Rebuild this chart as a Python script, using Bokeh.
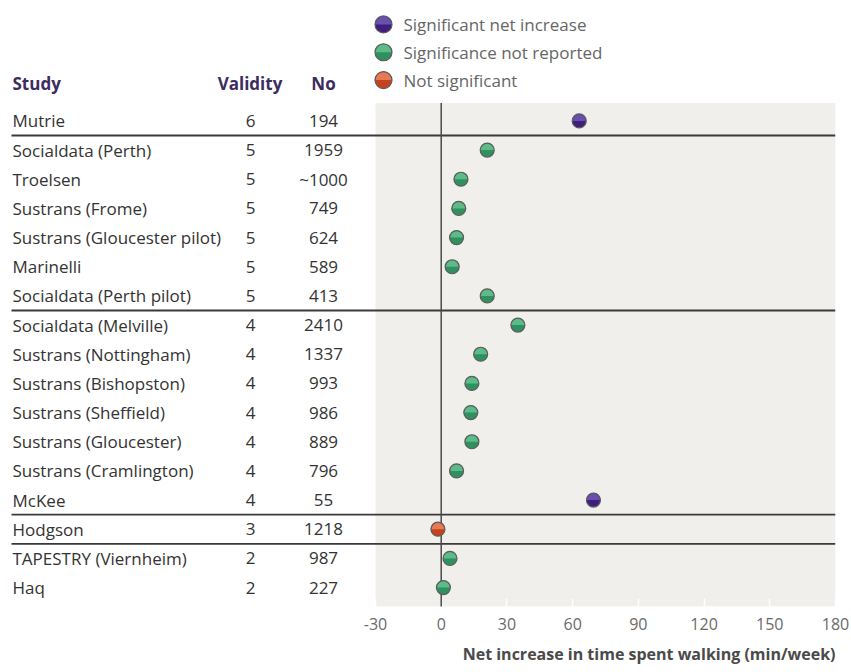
import math
from bokeh.plotting import figure
from bokeh.models import Range1d, FixedTicker, ColumnDataSource, Title
from bokeh.core.properties import value
from bokeh.transform import factor_cmap
from bokeh.embed import file_html
from bokeh.resources import INLINE

# ---------------- data ----------------
studies = ["Mutrie", "Socialdata (Perth)", "Troelsen", "Sustrans (Frome)",
           "Sustrans (Gloucester pilot)", "Marinelli", "Socialdata (Perth pilot)",
           "Socialdata (Melville)", "Sustrans (Nottingham)", "Sustrans (Bishopston)",
           "Sustrans (Sheffield)", "Sustrans (Gloucester)", "Sustrans (Cramlington)",
           "McKee", "Hodgson", "TAPESTRY (Viernheim)", "Haq"]
validity = [6, 5, 5, 5, 5, 5, 5, 4, 4, 4, 4, 4, 4, 4, 3, 2, 2]
participants = ["194", "1959", "~1000", "749", "624", "589", "413", "2410", "1337",
                "993", "986", "889", "796", "55", "1218", "987", "227"]
net_increase = [63, 21, 9, 8, 7, 5, 21, 35, 18, 14, 13.5, 14, 7, 69.5, -1.5, 4, 1]
significance = ["Significant net increase"] + ["Significance not reported"] * 12 + \
               ["Significant net increase", "Not significant",
                "Significance not reported", "Significance not reported"]
categories = ["Significant net increase", "Significance not reported", "Not significant"]
cat_dark = ["#3e207c", "#2f9160", "#c2431e"]
cat_light = ["#6a50ae", "#5cbb89", "#e67a55"]
x_ticks = [-30, 0, 30, 60, 90, 120, 150, 180]
x_tick_labels = ["-30", "0", "30", "60", "90", "120", "150", "180"]
headers = ["Study", "Validity", "No"]
x_title = "Net increase in time spent walking (min/week)"

# ---------------- layout constants ----------------
W, H = 851, 672
FRAME_RIGHT = 835
PX_PER_UNIT = 460 / 210.0
GRAY_LEFT_PAGE = 375
X_START = -30 - GRAY_LEFT_PAGE / PX_PER_UNIT
FRAME_BOTTOM_PAGE = 609
ROW0_PAGE, ROW_PITCH = 121, 29.31
Y_TOP = (0 - ROW0_PAGE) / ROW_PITCH
Y_BOTTOM = (FRAME_BOTTOM_PAGE - ROW0_PAGE) / ROW_PITCH
GRAY_TOP = (103 - ROW0_PAGE) / ROW_PITCH

FONT = value("Open Sans")
TEXT_COLOR = "#333333"
OUTLINE = "#5c5c5c"

rows = list(range(len(studies)))
src = ColumnDataSource(dict(row=rows, study=studies, validity=[str(v) for v in validity],
                            no=participants, val=net_increase, sig=significance))

p = figure(width=W, height=H, output_backend="svg", toolbar_location=None,
           x_range=Range1d(X_START, 180), y_range=Range1d(Y_BOTTOM, Y_TOP),
           y_axis_location=None, x_axis_location="below",
           min_border_left=0, min_border_right=W - FRAME_RIGHT, min_border_top=0,
           min_border_bottom=H - FRAME_BOTTOM_PAGE)
p.extra_x_ranges = {"px": Range1d(0, FRAME_RIGHT)}
p.extra_y_ranges = {"py": Range1d(FRAME_BOTTOM_PAGE, 0)}
p.outline_line_color = None
p.grid.grid_line_color = None
p.background_fill_color = "white"
p.border_fill_color = "white"

# plot background panel
p.quad(left=-30, right=180, top=GRAY_TOP, bottom=Y_BOTTOM, fill_color="#f0efec", line_color=None)

# separators between validity groups
sep_y = [i + 0.5 for i in range(len(validity) - 1) if validity[i] != validity[i + 1]]
p.segment(x0=11, x1=FRAME_RIGHT, y0=sep_y, y1=sep_y, x_range_name="px",
          line_color="#3a3a3a", line_width=1.8)

# zero line
p.segment(x0=[0], x1=[0], y0=[GRAY_TOP], y1=[Y_BOTTOM], line_color="#4a4a4a",
          line_width=1.5, level="overlay")


def shaded_markers(x, y, source=None, size=14, dark=None, light=None, **rng):
    kw = dict(source=source) if source is not None else {}
    p.scatter(x=x, y=y, size=size, fill_color=dark, line_color=None, level="overlay", **kw, **rng)
    p.wedge(x=x, y=y, radius=size / 2 - 0.5, radius_units="screen",
            start_angle=0, end_angle=math.pi, direction="anticlock",
            fill_color=light, line_color=None, level="overlay", **kw, **rng)
    p.scatter(x=x, y=y, size=size, fill_color=None, line_color=OUTLINE,
              line_width=1.2, level="overlay", **kw, **rng)


# data markers
shaded_markers("val", "row", source=src, size=14,
               dark=factor_cmap("sig", palette=cat_dark, factors=categories),
               light=factor_cmap("sig", palette=cat_light, factors=categories))

# table texts
p.text(x=12, y="row", text="study", source=src, x_range_name="px",
       text_font=FONT, text_font_size="17px", text_color=TEXT_COLOR,
       text_align="left", text_baseline="middle")
p.text(x=250, y="row", text="validity", source=src, x_range_name="px",
       text_font=FONT, text_font_size="17px", text_color=TEXT_COLOR,
       text_align="center", text_baseline="middle")
p.text(x=323, y="row", text="no", source=src, x_range_name="px",
       text_font=FONT, text_font_size="17px", text_color=TEXT_COLOR,
       text_align="center", text_baseline="middle")

# headers
HEADER_COLOR = "#3d2c60"
for txt, hx, al in zip(headers, [12, 249.5, 323], ["left", "center", "center"]):
    p.text(x=[hx], y=[83], text=[txt], x_range_name="px", y_range_name="py",
           text_font=FONT, text_font_size="17px", text_font_style="bold",
           text_color=HEADER_COLOR, text_align=al, text_baseline="middle")

# legend
leg_y = [24 + 28 * i for i in range(len(categories))]
leg_src = ColumnDataSource(dict(x=[383] * len(categories), y=leg_y, label=categories,
                                dark=cat_dark, light=cat_light))
shaded_markers("x", "y", source=leg_src, size=17, dark="dark", light="light",
               x_range_name="px", y_range_name="py")
p.text(x=403, y="y", text="label", source=leg_src, x_range_name="px", y_range_name="py",
       text_font=FONT, text_font_size="17px", text_color="#666666",
       text_align="left", text_baseline="middle")

# x axis
ax = p.xaxis[0]
ax.ticker = FixedTicker(ticks=x_ticks, minor_ticks=[])
ax.major_label_overrides = dict(zip(x_ticks, x_tick_labels))
ax.axis_line_color = None
ax.major_tick_in = 8
ax.major_tick_out = 0
ax.major_tick_line_color = "white"
ax.major_tick_line_width = 1.5
ax.major_label_standoff = 11
ax.major_label_text_font = "Open Sans"
ax.major_label_text_font_size = "16px"
ax.major_label_text_color = "#6a6a6a"

p.add_layout(Title(text=x_title, align="right", text_font="Open Sans",
                   text_font_size="16px", text_font_style="bold",
                   text_color="#4a4a4a", standoff=16), "below")

open("out.html", "w").write(file_html(p, INLINE))
